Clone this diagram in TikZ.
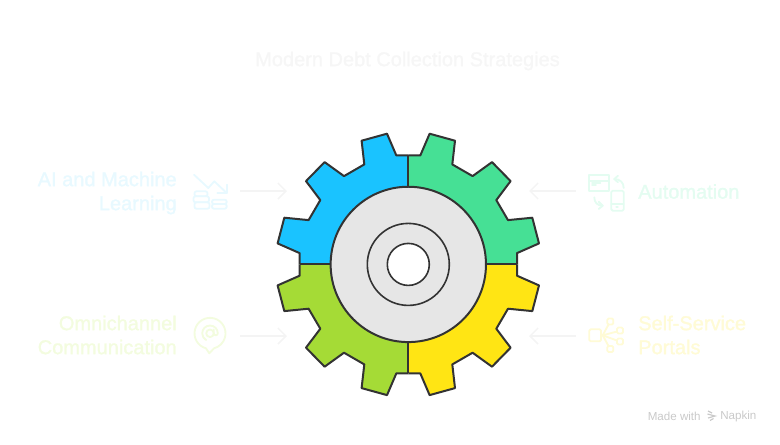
\documentclass[tikz,border=0pt]{standalone}
\usepackage{fontspec}
\usepackage{xcolor}
\usepackage{tikz}
\usetikzlibrary{arrows.meta,positioning,calc}
\newfontfamily\labelfont[FakeBold=1.4]{Liberation Sans}
\setmainfont{Liberation Sans}
\definecolor{gearline}{HTML}{333333}
\definecolor{hubgray}{HTML}{E6E6E6}
\definecolor{aiblue}{HTML}{1AC3FF}
\definecolor{autogreen}{HTML}{46E095}
\definecolor{omnilime}{HTML}{A5DB36}
\definecolor{selfyellow}{HTML}{FFE514}
\definecolor{aipale}{HTML}{E8F9FF}
\definecolor{autopale}{HTML}{E4FCF1}
\definecolor{omnipale}{HTML}{F3FCDF}
\definecolor{selfpale}{HTML}{FFFBD6}
\definecolor{titlepale}{HTML}{F6F6F6}
\definecolor{arrowpale}{HTML}{F4F4F4}
\definecolor{brandgray}{HTML}{C9C9C9}

\begin{document}
\begin{tikzpicture}[
  x=0.75pt, y=-0.75pt,
  gearpart/.style={draw=gearline, line width=1.5pt, line join=round},
  itemtext/.style={font=\labelfont\fontsize{15}{18}\selectfont, inner sep=0pt},
  itemarrow/.style={draw=arrowpale, line width=1.1pt, -{Straight Barb[length=6pt,width=12pt,line width=1.1pt]}},
  iconline/.style={line width=1.4pt, line join=round, line cap=round},
  brandtext/.style={font=\fontsize{8.7}{10}\selectfont, text=brandgray, inner sep=0pt, anchor=west}
]
\useasboundingbox (0,0) rectangle (780,444);

\node[font=\labelfont\fontsize{15}{18}\selectfont, text=titlepale, inner sep=0pt] (title) at (407.5,61) {Modern Debt Collection Strategies};

\coordinate (gearc) at (408.3,264.4);
\foreach \sx/\sy/\col in {-1/-1/aiblue, 1/-1/autogreen, -1/1/omnilime, 1/1/selfyellow} {
  \fill[\col, shift={(gearc)}, xscale=\sx, yscale=\sy]
    (0,0) -- (0,109) -- (12,109) -- (21.3,130.7) -- (46.7,123.7) -- (44,100) -- (64.3,88.3) -- (83.7,102.3)
    -- (102.3,83.3) -- (88,64.3) -- (99.7,44.3) -- (124,46.7) -- (130.7,21) -- (108.7,11.3) -- (108.7,0) -- cycle;
  \draw[gearpart, shift={(gearc)}, xscale=\sx, yscale=\sy]
    (0,109) -- (12,109) -- (21.3,130.7) -- (46.7,123.7) -- (44,100) -- (64.3,88.3) -- (83.7,102.3)
    -- (102.3,83.3) -- (88,64.3) -- (99.7,44.3) -- (124,46.7) -- (130.7,21) -- (108.7,11.3) -- (108.7,0);
}
\node[circle, draw=gearline, fill=hubgray, line width=1.5pt, minimum size=116.5pt, inner sep=0pt] (hub) at (gearc) {};
\draw[gearpart] (gearc) ++(-108.7,0) -- (hub.west);
\draw[gearpart] (gearc) ++(108.7,0) -- (hub.east);
\draw[gearpart] (gearc) ++(0,-109) -- (hub.north);
\draw[gearpart] (gearc) ++(0,109) -- (hub.south);
\node[circle, draw=gearline, line width=1.2pt, minimum size=61.5pt, inner sep=0pt] (ring) at (gearc) {};
\node[circle, draw=gearline, fill=white, line width=1.2pt, minimum size=31.5pt, inner sep=0pt] (hole) at (gearc) {};

\node[itemtext, text=aipale, anchor=east, align=right] (aitext) at (177,193) {AI and Machine\\Learning};
\node[itemtext, text=omnipale, anchor=east, align=right] (omnitext) at (177,335) {Omnichannel\\Communication};
\node[itemtext, text=autopale, anchor=west] (autotext) at (638,191.5) {Automation};
\node[itemtext, text=selfpale, anchor=west, align=left] (selftext) at (638,335) {Self-Service\\Portals};

\coordinate (aifrom) at (240,191);
\coordinate (aito) at (287,191);
\coordinate (omnifrom) at (240,336);
\coordinate (omnito) at (287,336);
\coordinate (autofrom) at (576,191);
\coordinate (autoto) at (529,191);
\coordinate (selffrom) at (576,336);
\coordinate (selfto) at (529,336);
\draw[itemarrow] (aifrom) -- (aito);
\draw[itemarrow] (omnifrom) -- (omnito);
\draw[itemarrow] (autofrom) -- (autoto);
\draw[itemarrow] (selffrom) -- (selfto);

\begin{scope}[iconline, draw=aipale]
\draw (194,174.7) -- (208.3,188) -- (214.3,181.3) -- (226.7,193);
\draw (226.7,184.7) -- (226.7,193) -- (217.3,193);
\draw[rounded corners=1.5pt] (194.5,191.3) rectangle (207.5,196.3);
\draw[rounded corners=1.5pt] (193.5,196.3) rectangle (209,202.3);
\draw[rounded corners=1.5pt] (194.5,202.3) rectangle (209.5,208.7);
\draw[rounded corners=1.5pt] (212,199.7) rectangle (226.7,204);
\draw[rounded corners=1.5pt] (212,204) rectangle (226.7,208.7);
\end{scope}

\begin{scope}[iconline, draw=omnipale]
\draw (206,348.3) arc[start angle=105, end angle=435, radius=15.5] -- (209.3,353.3) -- cycle;
\draw (210,333.3) circle[radius=3.8];
\draw (213.8,329.5) -- (213.8,333.3) arc[start angle=180, end angle=0, radius=2] arc[start angle=0, end angle=-240, radius=7.8];
\end{scope}

\begin{scope}[iconline, draw=autopale]
\draw (588.7,175.3) rectangle (608.7,190.7);
\draw (588.7,180.7) -- (608.7,180.7);
\draw (592,183) -- (600.3,183);
\draw (592,185.3) -- (596,185.3);
\draw[rounded corners=1pt] (611.3,190.7) rectangle (623.7,210.7);
\draw (611.3,204) -- (623.7,204);
\draw (616.2,207.3) -- (617.8,207.3);
\draw (623.7,188) .. controls (623.7,182.5) and (620,179) .. (614.3,179);
\draw (618,175.7) -- (614.3,179) -- (618,182.3);
\draw (594.3,197.3) .. controls (594.3,202.5) and (597.5,205.7) .. (602.7,205.7);
\draw (598.7,201.7) -- (602.7,205.7) -- (598.7,209);
\end{scope}

\begin{scope}[iconline, draw=selfpale]
\draw[rounded corners=1pt] (589.3,329.3) rectangle (601,341.3);
\draw[rounded corners=1pt] (607.3,318.5) rectangle (613.3,324.5);
\draw[rounded corners=1pt] (617,327.5) rectangle (623,333.5);
\draw[rounded corners=1pt] (617,338.5) rectangle (623,344.5);
\draw[rounded corners=1pt] (607.3,346) rectangle (613.3,352);
\draw (602.7,335.3) -- (608.5,324.5);
\draw (602.7,335.3) -- (617,331.5);
\draw (602.7,335.3) -- (617,340.5);
\draw (602.7,335.3) -- (608.5,346);
\end{scope}

\node[brandtext] (madewith) at (647.5,416) {Made with};
\node[brandtext] (napkin) at (720,416) {Napkin};
\draw[brandgray, line width=0.9pt] (708,411) -- (712,413) (707.5,414) -- (715,416) -- (708,418) (710,420.5) -- (713.5,418.5);
\end{tikzpicture}
\end{document}
